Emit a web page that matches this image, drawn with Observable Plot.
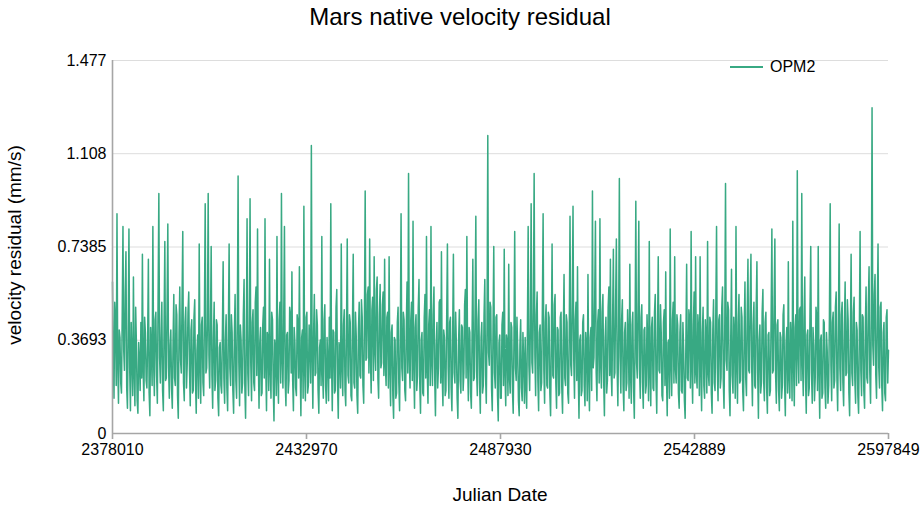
<!DOCTYPE html>
<html>
<head>
<meta charset="utf-8">
<script src="https://cdn.jsdelivr.net/npm/d3@7"></script>
<script src="https://cdn.jsdelivr.net/npm/@observablehq/plot@0.6"></script>
<style>
  html, body { margin: 0; padding: 0; background: #fff; }
  #chart { position: relative; width: 920px; height: 520px; font-family: "Liberation Sans", Arial, Helvetica, sans-serif; color: #000; }
  #chart svg { position: absolute; left: 0; top: 0; }
  .title { position: absolute; left: 0; top: 0; width: 920px; height: 34px; line-height: 34px; text-align: center; font-size: 24px; }
  .xlabel { position: absolute; left: 112px; width: 776px; top: 480px; height: 30px; line-height: 30px; text-align: center; font-size: 19px; }
  .ylabel { position: absolute; left: -135px; top: 230px; width: 300px; height: 30px; line-height: 30px; text-align: center; font-size: 19px; transform: rotate(-90deg); }
  .legend { position: absolute; left: 730px; top: 57px; height: 20px; line-height: 20px; font-size: 16px; display: flex; align-items: center; }
  .legend .swatch { width: 33px; height: 2px; margin-right: 7px; }
</style>
</head>
<body>
<div id="chart"></div>
<script>
// Mars velocity residuals of the OPM2 ephemeris, in mm/s, sampled evenly over the Julian Date span
const seriesName = "OPM2";
const jdStart = 2378010;
const jdEnd = 2597849;
const residuals = [
  .60,.31,.14,.52,.45,.19,.87,.27,.12,.41,.38,.20,.16,.47,.82,.33,.25,.56,.72,.18,.10,.39,.81,.26,.09,.44,.30,.15,.62,.24,.11,.50,.35,.13,.08,.36,.29,.17,.44,.22,
  .71,.25,.13,.46,.40,.21,.18,.37,.69,.16,.07,.42,.33,.19,.82,.28,.15,.45,.48,.23,.12,.54,.95,.30,.20,.38,.52,.17,.09,.43,.76,.21,.22,.49,.83,.26,.14,.35,.41,.18,
  .10,.36,.55,.22,.19,.51,.47,.15,.06,.40,.58,.29,.24,.52,.80,.20,.13,.44,.50,.18,.28,.48,.56,.25,.11,.41,.45,.16,.17,.46,.53,.21,.08,.33,.39,.14,.75,.27,.12,.43,
  .46,.20,.15,.49,.91,.24,.26,.44,.95,.31,.18,.42,.74,.23,.10,.38,.52,.17,.21,.45,.43,.14,.07,.34,.36,.19,.16,.40,.68,.22,.12,.37,.47,.18,.09,.41,.75,.26,.19,.47,
  .40,.17,.08,.39,.55,.21,.14,.46,1.02,.28,.11,.43,.37,.16,.20,.47,.61,.19,.06,.35,.85,.24,.15,.41,.93,.27,.13,.44,.49,.20,.17,.52,.58,.23,.81,.30,.10,.36,.42,.15,
  .16,.43,.50,.22,.85,.26,.09,.40,.38,.17,.69,.25,.14,.48,.45,.19,.05,.37,.33,.15,.78,.23,.12,.45,.52,.20,.95,.29,.18,.44,.82,.21,.11,.39,.40,.16,.21,.50,.47,.24,
  .64,.21,.09,.42,.36,.18,.15,.47,.44,.22,.66,.27,.07,.38,.41,.14,.90,.25,.13,.46,.48,.16,.19,.43,.35,.20,1.14,.31,.10,.40,.55,.23,.24,.49,.43,.17,.08,.34,.37,.19,
  .78,.24,.14,.45,.51,.19,.12,.38,.29,.13,.46,.22,.91,.28,.09,.41,.40,.16,.17,.50,.57,.20,.06,.36,.33,.18,.75,.26,.15,.43,.49,.17,.11,.42,.77,.23,.20,.47,.44,.15,
  .13,.44,.71,.20,.18,.48,.39,.15,.08,.41,.52,.23,.22,.53,.46,.19,.12,.45,.96,.29,.30,.55,.58,.24,.77,.31,.16,.49,.54,.21,.70,.33,.25,.57,.62,.22,.14,.47,.59,.26,
  .28,.51,.56,.23,.69,.27,.19,.46,.48,.18,.70,.25,.11,.40,.43,.15,.06,.38,.37,.14,.16,.44,.50,.20,.09,.39,.87,.26,.21,.48,.45,.17,.13,.42,.60,.24,1.03,.30,.18,.45,
  .52,.21,.84,.27,.10,.42,.47,.17,.23,.50,.61,.20,.08,.37,.40,.16,.15,.46,.55,.22,.78,.25,.12,.43,.49,.19,.82,.28,.19,.47,.58,.22,.07,.35,.44,.18,.26,.52,.53,.20,
  .72,.23,.11,.41,.38,.15,.17,.45,.75,.26,.14,.44,.46,.18,.09,.39,.71,.24,.20,.48,.35,.14,.06,.37,.49,.21,.16,.43,.42,.17,.24,.51,.57,.22,.78,.29,.13,.42,.40,.16,
  .10,.40,.69,.21,.22,.49,.86,.25,.15,.45,.53,.20,.08,.38,.44,.16,.19,.47,.61,.23,.12,.43,1.18,.32,.27,.52,.50,.18,.09,.41,.74,.24,.18,.46,.47,.15,.05,.36,.39,.14,
  .14,.43,.48,.19,.73,.24,.11,.39,.36,.15,.67,.22,.16,.44,.42,.17,.08,.37,.80,.26,.21,.46,.33,.13,.07,.35,.45,.18,.13,.40,.29,.12,.38,.19,.10,.41,.82,.27,.17,.44,
  .91,.28,.24,.50,1.03,.31,.15,.47,.56,.21,.09,.40,.43,.17,.20,.49,.87,.25,.12,.44,.51,.19,.18,.48,.46,.16,.07,.36,.75,.23,.22,.51,.55,.20,.10,.42,.41,.15,.16,.46,
  .48,.18,.08,.39,.63,.22,.19,.47,.44,.16,.12,.42,.86,.27,.23,.51,.90,.29,.14,.45,.52,.21,.66,.24,.06,.37,.39,.15,.17,.44,.47,.19,.11,.40,.35,.13,.63,.23,.09,.38,
  .42,.17,.96,.26,.30,.53,.84,.24,.13,.44,.49,.20,.85,.27,.18,.48,.55,.21,.07,.38,.46,.16,.21,.50,.58,.23,.69,.25,.15,.46,.73,.22,.24,.52,.77,.26,.11,.41,1.01,.30,
  .16,.45,.53,.19,.09,.40,.44,.17,.20,.49,.38,.14,.67,.23,.12,.43,.48,.18,.06,.37,.92,.28,.22,.50,.84,.25,.14,.46,.51,.20,.10,.41,.42,.16,.19,.47,.35,.13,.76,.24,
  .11,.42,.46,.18,.17,.48,.55,.21,.08,.39,.70,.25,.24,.51,.40,.15,.13,.44,.49,.19,.64,.23,.07,.36,.37,.14,.81,.27,.15,.45,.52,.20,.70,.26,.20,.47,.43,.16,.10,.40,
  .47,.17,.16,.44,.33,.13,.06,.37,.67,.22,.21,.49,.45,.18,.80,.26,.12,.43,.56,.20,.70,.24,.18,.47,.41,.15,.70,.25,.09,.40,.50,.19,.14,.45,.38,.16,.76,.24,.19,.46,
  .44,.16,.08,.41,.53,.20,.17,.48,.82,.26,.13,.45,.47,.18,.22,.50,.58,.21,.10,.42,.99,.29,.25,.52,.49,.17,.07,.38,.65,.23,.16,.46,.39,.14,.82,.27,.12,.44,.55,.20,
  .21,.50,.46,.17,.09,.41,.60,.22,.15,.47,.69,.25,.24,.53,.71,.26,.11,.43,.52,.19,.18,.49,.68,.24,.06,.37,.43,.16,.20,.48,.57,.21,.13,.44,.48,.18,.08,.39,.40,.15,
  .17,.46,.81,.24,.25,.52,.77,.23,.12,.43,.45,.17,.09,.40,.38,.14,.19,.47,.51,.20,.07,.36,.42,.16,.68,.22,.14,.44,.36,.13,.84,.27,.11,.42,.47,.19,1.04,.31,.20,.49,
  .50,.21,.95,.28,.15,.46,.62,.22,.08,.39,.41,.15,.18,.48,.74,.24,.12,.42,.35,.13,.22,.50,.46,.17,.74,.25,.06,.37,.39,.14,.16,.45,.44,.18,.10,.40,.33,.12,.19,.47,
  .91,.27,.13,.44,.48,.18,.21,.50,.56,.22,.09,.41,.83,.26,.17,.47,.52,.20,.11,.43,.60,.23,.24,.53,.45,.16,.07,.38,.71,.24,.19,.48,.54,.21,.12,.44,.41,.15,.08,.39,
  .80,.25,.15,.47,.46,.17,.10,.42,.58,.22,.20,.51,.66,.24,.12,.45,1.29,.35,.27,.55,.63,.23,.14,.48,.75,.26,.18,.50,.52,.19,.09,.40,.44,.16,.13,.46,.49,.20,.33
];
const xTicks = [2378010, 2432970, 2487930, 2542889, 2597849];
const yTicks = [0, 0.3693, 0.7385, 1.108, 1.477];
const yTickLabels = ["0", "0.3693", "0.7385", "1.108", "1.477"];

const lineColor = "#38a983";
const axisColor = "#a6a6a6";
const gridColor = "#dddddd";

const step = (jdEnd - jdStart) / (residuals.length - 1);
const data = residuals.map((v, i) => ({jd: jdStart + i * step, v}));

const chart = Plot.plot({
  width: 920,
  height: 520,
  marginLeft: 112,
  marginRight: 32,
  marginTop: 60,
  marginBottom: 87,
  style: {
    fontFamily: "'Liberation Sans', Arial, Helvetica, sans-serif",
    fontSize: "16px",
    color: "#000",
    background: "transparent",
    overflow: "visible"
  },
  x: {
    domain: [jdStart, jdEnd],
    ticks: xTicks,
    tickFormat: d => String(Math.round(d)),
    tickSize: 6,
    tickPadding: 4,
    label: null
  },
  y: {
    domain: [0, yTicks[yTicks.length - 1]],
    ticks: yTicks,
    tickFormat: d => yTickLabels[yTicks.indexOf(d)],
    tickSize: 0,
    tickPadding: 6,
    label: null
  },
  marks: [
    Plot.ruleY(yTicks.slice(1), {stroke: gridColor, strokeWidth: 1}),
    Plot.line(data, {x: "jd", y: "v", stroke: lineColor, strokeWidth: 1.5}),
    Plot.ruleX([jdStart], {stroke: axisColor, strokeWidth: 1.6}),
    Plot.ruleY([0], {stroke: axisColor, strokeWidth: 1.6})
  ]
});

// tick marks in the axis colour
d3.select(chart).selectAll("[aria-label='x-axis tick'] path, [aria-label='x-axis'] .tick line, [aria-label='x-axis'] path")
  .attr("stroke", axisColor).attr("stroke-width", 1.6);

const root = document.getElementById("chart");
root.appendChild(chart);

const title = document.createElement("div");
title.className = "title";
title.textContent = "Mars native velocity residual";
root.appendChild(title);

const xlabel = document.createElement("div");
xlabel.className = "xlabel";
xlabel.textContent = "Julian Date";
root.appendChild(xlabel);

const ylabel = document.createElement("div");
ylabel.className = "ylabel";
ylabel.textContent = "velocity residual (mm/s)";
root.appendChild(ylabel);

const legend = document.createElement("div");
legend.className = "legend";
const swatch = document.createElement("span");
swatch.className = "swatch";
swatch.style.background = lineColor;
const name = document.createElement("span");
name.textContent = seriesName;
legend.appendChild(swatch);
legend.appendChild(name);
root.appendChild(legend);
</script>
</body>
</html>
